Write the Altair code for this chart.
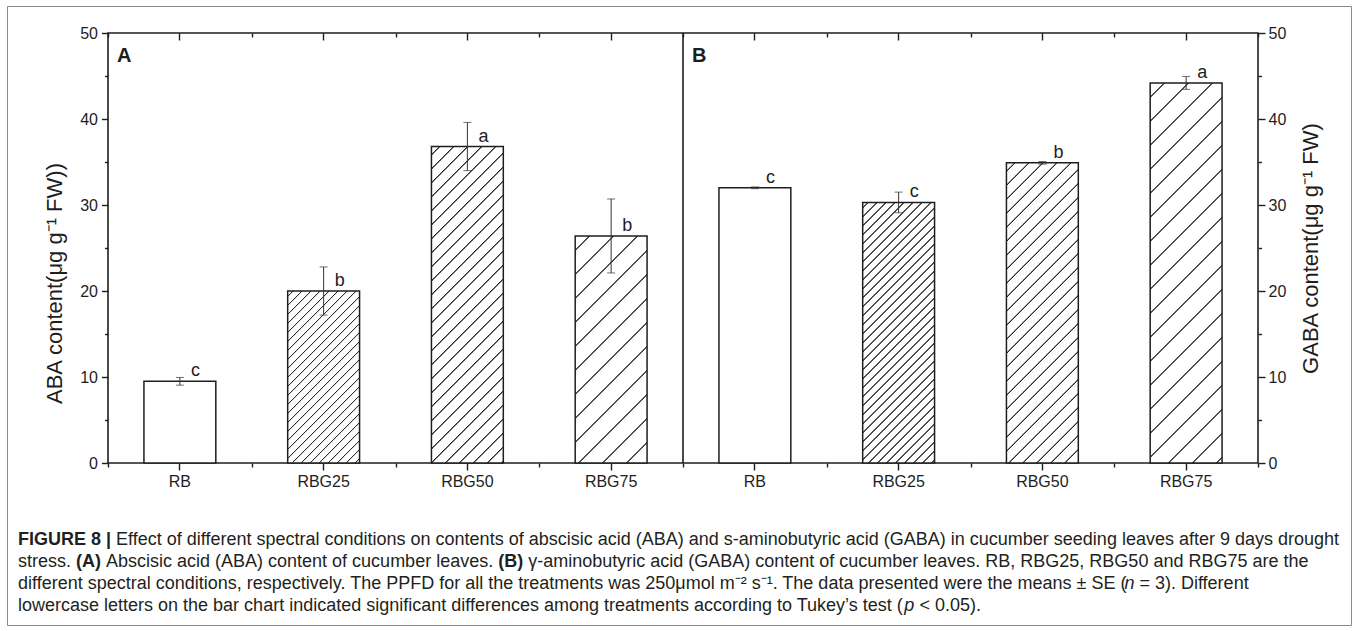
import altair as alt
import pandas as pd

# ---------------- data ----------------
treatments = ["RB", "RBG25", "RBG50", "RBG75"]
aba_mean = [9.5, 20.0, 36.8, 26.4]
aba_se = [0.45, 2.8, 2.8, 4.3]
aba_letters = ["c", "b", "a", "b"]
gaba_mean = [32.0, 30.3, 34.9, 44.2]
gaba_se = [0.1, 1.2, 0.15, 0.75]
gaba_letters = ["c", "c", "b", "a"]
panels = ["A", "B"]
y_title_a = "ABA content(μg g⁻¹ FW))"
y_title_b = "GABA content(μg g⁻¹ FW)"
y_major = [0, 10, 20, 30, 40, 50]
y_minor = [5, 15, 25, 35, 45]

# caption: (text, style, space_after)
caption_lines = [
    [("FIGURE 8 |", "b", True),
     ("Effect of different spectral conditions on contents of abscisic acid (ABA) and s-aminobutyric acid (GABA) in cucumber seeding leaves after 9 days drought", "r", False)],
    [("stress.", "r", True), ("(A)", "b", True), ("Abscisic acid (ABA) content of cucumber leaves.", "r", True),
     ("(B)", "b", True),
     ("γ-aminobutyric acid (GABA) content of cucumber leaves. RB, RBG25, RBG50 and RBG75 are the", "r", False)],
    [("different spectral conditions, respectively. The PPFD for all the treatments was 250μmol m⁻² s⁻¹. The data presented were the means ± SE (", "r", False),
     ("n", "i", True), ("= 3). Different", "r", False)],
    [("lowercase letters on the bar chart indicated significant differences among treatments according to Tukey’s test (", "r", False),
     ("p", "i", True), ("< 0.05).", "r", False)],
]

# ---------------- layout / style ----------------
W, H = 1150, 430
OX, OY = 108, 33          # plot origin in the page
INK = "#1e1e1e"
PAPER = "#ffffff"
HATCH = "#2b2b2b"
FONT = "Liberation Sans, Arial, Helvetica, sans-serif"
hatch_spacing = {"RBG25": 9, "RBG50": 14, "RBG75": 24}
BAR_BAND = 0.5
CAP_X0 = 18
caption_y = [540, 562, 584, 606]
CAP_SIZE = 18

# approximate Arial / Liberation Sans advance widths (1/1000 em) for chaining caption pieces
_REG = {" ": 278, "(": 333, ")": 333, ".": 278, ",": 278, "-": 333, "|": 260, "±": 584, "μ": 576,
        "γ": 500, "⁻": 230, "²": 300, "¹": 300, "’": 222, "'": 191, "<": 584, "=": 584,
        "A": 667, "B": 667, "C": 722, "D": 722, "E": 667, "F": 611, "G": 778, "H": 722, "I": 278,
        "P": 667, "R": 722, "S": 667, "T": 611, "U": 722, "W": 944,
        "a": 556, "b": 556, "c": 500, "d": 556, "e": 556, "f": 278, "g": 556, "h": 556, "i": 222,
        "j": 222, "k": 500, "l": 222, "m": 833, "n": 556, "o": 556, "p": 556, "q": 556, "r": 333,
        "s": 500, "t": 278, "u": 556, "v": 500, "w": 722, "x": 500, "y": 500, "z": 500}
_BOLD = {" ": 278, "(": 333, ")": 333, "|": 280, "A": 722, "B": 722, "E": 667, "F": 611, "G": 778,
         "I": 278, "R": 722, "U": 722}


def text_w(s, size, style):
    table = _BOLD if style == "b" else _REG
    return sum(table.get(ch, 556 if ch.isdigit() else 500) for ch in s) * size / 1000.0


rows = []
for panel, means, ses, lets in [("A", aba_mean, aba_se, aba_letters),
                                ("B", gaba_mean, gaba_se, gaba_letters)]:
    for t, m, s, l in zip(treatments, means, ses, lets):
        rows.append(dict(key=f"{panel}|{t}", panel=panel, treatment=t,
                         mean=m, lo=m - s, hi=m + s, letter=l))
df = pd.DataFrame(rows)
keys = list(df["key"])

xscale = alt.Scale(domain=keys, paddingInner=0, paddingOuter=0)
yscale = alt.Scale(domain=[0, 50], nice=False, zero=True)


def X(axis=None, **kw):
    return alt.X("key:N", sort=keys, scale=xscale, axis=axis, title=None, **kw)


def Y(field, axis=None, title=None):
    return alt.Y(f"{field}:Q", scale=yscale, axis=axis, title=title)


common = dict(domain=False, grid=False, tickColor=INK, tickWidth=1.4)
x_major_bottom = alt.Axis(orient="bottom", tickSize=7, labelExpr="split(datum.label, '|')[1]",
                          labelAngle=0, labelPadding=3, **common)
x_minor_bottom = alt.Axis(orient="bottom", tickBand="extent", tickSize=4, labels=False, **common)
x_major_top = alt.Axis(orient="bottom", offset=-H, tickSize=7, labels=False, **common)
x_minor_top = alt.Axis(orient="bottom", offset=-H, tickBand="extent", tickSize=4, labels=False, **common)
y_left = alt.Axis(orient="left", values=y_major, tickSize=6.5, labelPadding=4,
                  titlePadding=13, titleY=250, **common)
y_left_minor = alt.Axis(orient="left", values=y_minor, tickSize=3.5, labels=False, **common)
y_right = alt.Axis(orient="right", values=y_major, tickSize=7, labelPadding=3,
                   titlePadding=15, titleAngle=270, titleBaseline="top", **common)
y_right_minor = alt.Axis(orient="right", values=y_minor, tickSize=3.5, labels=False, **common)


def hatch_fill(w, h, spacing):
    L = w + h
    core, ramp = 0.4, 0.6
    stops = [(0.0, PAPER)]
    c = spacing * 0.6
    while c < L:
        for off, col in ((c - core - ramp, PAPER), (c - core, HATCH),
                         (c + core, HATCH), (c + core + ramp, PAPER)):
            stops.append((round(min(max(off / L, 0.0), 1.0), 5), col))
        c += spacing
    stops.append((1.0, PAPER))
    d = w * w + h * h
    return {"gradient": "linear", "x1": 0, "y1": 0,
            "x2": round(w * L / d, 6), "y2": round(h * L / d, 6),
            "stops": [{"offset": o, "color": col} for o, col in stops]}


base = alt.Chart(df)
bar_kw = dict(width={"band": BAR_BAND}, stroke=INK, strokeWidth=1.5)

white_bars = base.transform_filter(alt.datum.treatment == "RB").mark_bar(
    fill=PAPER, **bar_kw).encode(x=X(x_major_bottom), y=Y("mean", y_left, y_title_a))

band_px = W / len(keys)
hatch_layers = []
for r in rows:
    if r["treatment"] == "RB":
        continue
    g = hatch_fill(band_px * BAR_BAND, r["mean"] * H / 50, hatch_spacing[r["treatment"]])
    hatch_layers.append(
        base.transform_filter(alt.datum.key == r["key"]).mark_bar(fill=g, **bar_kw)
        .encode(x=X(), y=Y("mean"))
    )

divider = base.transform_filter(alt.datum.key == "B|RB").mark_rule(
    color=INK, strokeWidth=1.6).encode(x=X(bandPosition=0), y=alt.value(0), y2=alt.value(H))

err = base.mark_rule(color="#333333", strokeWidth=1).encode(
    x=X(x_minor_bottom), y=Y("lo", y_left_minor), y2="hi:Q")

caps = base.transform_fold(["lo", "hi"], as_=["which", "yv"]).mark_tick(
    color="#333333", size=8, thickness=1).encode(
    x=X(x_major_top), y=Y("yv", y_right, y_title_b))

letters = base.mark_text(align="left", baseline="alphabetic", dx=11, dy=-5,
                         fontSize=18, color=INK).encode(
    x=X(x_minor_top), y=Y("mean", y_right_minor), text="letter:N")

panel_labels = base.transform_filter(alt.datum.treatment == "RB").mark_text(
    align="left", baseline="top", dx=9, dy=13, fontSize=20, fontWeight="bold", color=INK
).encode(x=X(bandPosition=0), y=alt.value(0), text="panel:N")

# caption pieces, chained left to right
cap_rows = []
for li, line in enumerate(caption_lines):
    x = CAP_X0
    for txt, style, space_after in line:
        cap_rows.append(dict(text=txt, style=style, px=x - OX, py=caption_y[li] - OY))
        x += text_w(txt, CAP_SIZE, style)
        if space_after:
            x += text_w(" ", CAP_SIZE, "r")
cap_df = pd.DataFrame(cap_rows)


def cap_layer(style, **kw):
    return alt.Chart(cap_df).transform_filter(alt.datum.style == style).mark_text(
        align="left", baseline="middle", fontSize=CAP_SIZE, color="#231f20", **kw
    ).encode(x=alt.X("px:Q", scale=None, axis=None),
             y=alt.Y("py:Q", scale=None, axis=None), text="text:N")


cap_r = cap_layer("r")
cap_b = cap_layer("b", fontWeight="bold")
cap_i = cap_layer("i", fontStyle="italic")

frame = alt.Chart(pd.DataFrame({"f": [0]})).mark_rect(
    fillOpacity=0, stroke="#8a8a8a", strokeWidth=1).encode(
    x=alt.value(7.5 - OX), x2=alt.value(1351.5 - OX),
    y=alt.value(6.5 - OY), y2=alt.value(625.5 - OY))

chart = alt.layer(
    white_bars, *hatch_layers, divider, err, caps, letters, panel_labels,
    cap_r, cap_b, cap_i, frame
).resolve_axis(x="independent", y="independent").properties(
    width=W, height=H,
    autosize=alt.AutoSizeParams(type="none"),
    padding={"left": OX, "top": OY, "right": 1360 - OX - W, "bottom": 631 - OY - H},
).configure_view(stroke=INK, strokeWidth=1.6).configure_axis(
    labelFont=FONT, labelFontSize=16, labelColor=INK,
    titleFont=FONT, titleFontSize=22, titleFontWeight="normal", titleColor=INK
).configure_text(font=FONT)

chart.save("out.html", embed_options={"renderer": "svg", "actions": False})
